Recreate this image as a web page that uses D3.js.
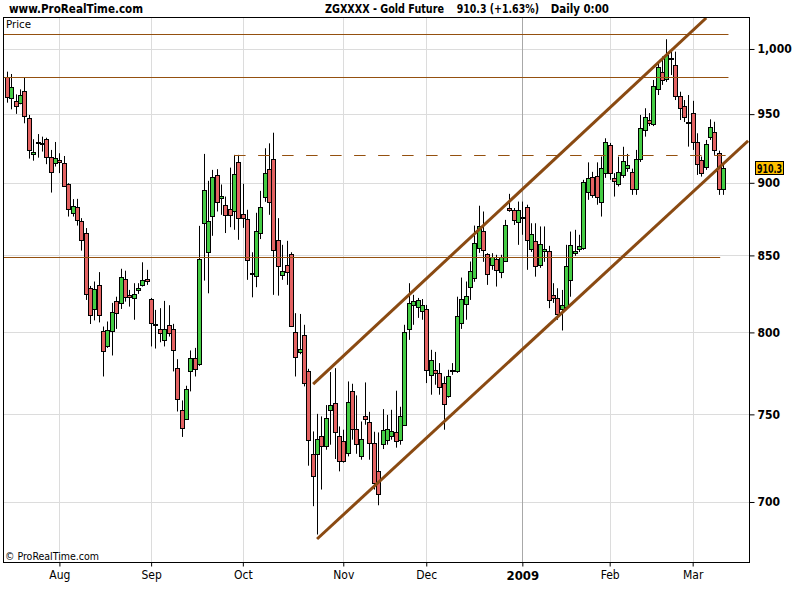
<!DOCTYPE html>
<html>
<head>
<meta charset="utf-8">
<script src="https://cdn.jsdelivr.net/npm/d3@7/dist/d3.min.js"></script>
<style>
  html, body { margin: 0; padding: 0; background: #ffffff; }
  svg { display: block; }
  text { font-family: 'Liberation Sans Narrow', 'Arial Narrow', 'DejaVu Sans Condensed', sans-serif; }
</style>
</head>
<body>
<svg id="chart" width="800" height="600"></svg>
<script>
// ---- Data (Gold Future, daily candles, 16 Jul 2008 .. 11 Mar 2009) ----
const opens = [978.4,961.9,959.6,958.1,967.2,946.9,920.5,929.2,928.9,931.6,
918.3,914.0,916.3,914.0,899.0,878.8,883.2,873.2,865.1,828.3,
814.7,830.5,800.8,791.6,800.8,819.9,818.6,834.3,823.7,821.8,
827.0,830.3,834.3,821.2,805.0,802.0,795.1,804.6,802.2,778.0,
752.5,747.2,776.0,784.0,780.3,871.8,852.1,876.7,905.4,889.2,
884.3,881.8,880.2,914.7,878.5,874.6,838.2,836.2,865.1,889.9,
909.7,916.8,860.3,837.1,843.4,850.8,800.2,787.6,798.2,776.0,
726.9,726.9,737.1,731.3,752.5,756.7,737.1,734.2,727.8,764.1,
741.4,726.1,749.0,745.8,733.3,717.4,732.7,735.2,737.1,739.4,
735.2,743.5,802.0,817.5,816.4,813.9,814.7,773.5,776.8,774.8,
768.7,761.1,776.4,776.2,805.9,818.0,829.4,835.3,854.9,866.6,
850.8,843.9,847.5,838.9,846.1,882.3,880.6,872.8,875.9,883.0,
854.2,860.0,843.7,853.0,853.0,823.7,821.8,814.7,816.4,833.8,
851.5,854.2,855.2,893.4,904.2,905.0,886.4,906.9,927.2,903.3,
899.3,905.6,910.4,907.6,895.5,916.8,938.2,945.6,942.4,968.7,
981.8,976.4,993.2,987.5,963.6,956.1,944.3,950.6,929.2,916.3,
911.6,932.9,936.5,921.2,895.5];

const highs = [982.3,980.5,964.9,968.7,977.4,949.4,931.4,935.2,933.3,932.5,
923.6,929.4,921.2,919.2,899.7,888.5,888.7,875.3,868.5,829.8,
832.7,838.9,803.7,806.9,818.8,822.8,841.1,839.8,827.2,831.6,
831.6,845.4,840.4,822.0,814.3,815.4,820.1,817.3,805.4,783.3,
758.3,767.1,788.7,790.3,870.0,920.7,901.4,909.2,909.7,898.8,
890.3,910.8,920.0,920.0,899.3,881.1,852.1,879.0,894.3,924.8,
928.4,936.2,875.3,857.1,859.8,852.1,812.2,811.7,804.8,777.4,
740.0,750.3,748.8,755.5,775.4,777.8,742.9,741.0,769.7,768.3,
761.3,745.8,769.1,751.5,739.8,739.4,753.1,749.7,752.7,764.1,
754.5,804.8,831.6,824.0,822.0,821.3,817.5,789.1,787.8,780.9,
772.7,776.8,780.9,822.8,835.3,832.7,845.9,870.2,883.9,879.9,
851.5,851.5,850.4,850.4,874.1,892.2,882.3,886.8,886.8,884.6,
871.8,871.8,869.6,869.6,856.4,831.6,828.3,827.2,857.1,866.1,
867.3,863.9,902.1,914.6,907.8,914.6,918.8,932.1,928.7,906.9,
918.8,925.9,920.7,910.1,923.6,949.4,954.4,950.8,975.9,990.1,
994.1,1007.7,997.9,997.9,966.9,960.6,964.4,960.0,935.8,918.8,
930.9,946.1,944.3,923.1,912.8];

const lows = [958.6,953.6,950.2,957.4,943.2,917.3,915.8,918.0,922.4,913.3,
893.1,911.6,906.9,897.4,876.4,876.4,870.2,853.2,820.7,805.3,
807.6,806.3,772.7,790.3,785.6,802.2,814.9,819.6,816.4,808.0,
824.6,829.4,830.5,791.2,789.9,793.8,791.2,797.4,775.8,751.7,
736.8,746.8,763.7,772.7,779.2,833.3,825.0,863.2,879.9,877.6,
865.1,869.1,867.3,860.5,868.6,833.8,822.4,829.0,861.0,886.6,
877.6,824.0,823.5,833.8,830.5,803.9,772.7,786.4,766.7,720.3,
697.7,682.3,706.9,729.4,732.3,724.1,717.1,722.0,725.6,735.2,
727.1,723.7,743.9,723.7,706.9,698.2,729.8,732.3,735.2,730.6,
732.3,743.3,795.3,804.8,809.2,808.0,768.7,761.7,767.7,761.7,
741.0,759.9,773.7,774.9,802.2,808.0,820.7,832.5,851.7,845.7,
830.5,840.4,829.4,834.9,845.7,879.7,870.6,857.1,863.9,840.4,
852.3,835.9,841.7,845.7,815.4,818.8,808.0,801.2,815.6,822.8,
849.7,852.3,853.7,888.0,889.4,884.6,876.4,903.5,902.1,890.3,
897.4,903.5,907.8,891.5,891.5,914.9,933.3,941.1,941.1,964.4,
972.1,974.4,979.7,960.6,945.6,944.1,926.0,923.6,905.6,904.4,
909.2,930.9,920.0,891.5,891.5];

const closes = [962.7,970.3,955.9,964.1,948.4,923.4,922.0,928.7,927.7,918.3,
907.6,917.5,914.9,898.0,881.6,883.9,873.9,860.3,824.6,810.9,
827.7,810.9,788.3,801.6,813.0,812.2,835.6,822.8,822.4,824.4,
828.5,833.6,833.0,805.9,804.8,799.5,802.0,799.7,788.7,759.1,
742.0,765.3,784.0,777.2,847.5,894.8,873.4,904.0,886.4,890.6,
877.4,877.8,906.1,875.3,875.3,846.8,837.8,866.4,883.0,906.9,
886.4,853.7,843.0,839.9,838.9,804.3,784.6,789.5,768.7,735.0,
714.3,735.6,731.3,747.8,755.7,739.4,723.1,722.7,757.5,741.4,
732.7,735.8,747.2,733.3,710.5,704.5,740.8,741.4,740.0,734.2,
749.1,800.2,818.6,820.1,820.7,817.3,776.4,782.9,774.8,766.3,
756.1,772.7,776.7,810.5,821.2,823.3,839.5,858.3,869.6,853.7,
837.5,848.8,840.4,848.8,870.4,880.6,874.1,880.6,875.5,860.5,
864.4,843.0,857.7,854.0,820.7,821.8,811.5,817.3,843.0,857.1,
853.0,856.4,900.5,903.3,891.5,890.3,910.4,929.2,906.9,901.4,
907.6,915.4,912.8,895.5,916.8,939.4,947.6,943.2,971.3,985.7,
975.9,994.9,993.0,963.6,954.3,948.1,944.5,929.2,913.3,906.9,
927.7,940.1,923.6,895.5,910.3];

// month tick positions (candle index of first trading day) and labels
const monthIndex  = [12, 33, 54, 77, 96, 118, 138, 157];
const monthLabels = ["Aug", "Sep", "Oct", "Nov", "Dec", "2009", "Feb", "Mar"];
const priceTicks  = [700, 750, 800, 850, 900, 950, 1000];

// drawn horizontal levels: [price, startIndex, endIndex, dashed]
const levelPrices = [1011.5, 978, 920, 849];
const levelStart  = [-0.92, -0.92, 52, -0.92];
const levelEnd    = [165.2, 165.2, 165.2, 163.3];
const levelDashed = [false, false, true, false];

// trend channel: [startIndex, startPrice, endIndex, endPrice]
const channelLower = [71.0, 679.9, 169.7, 930.2];
const channelUpper = [70.1, 768.1, 160.1, 1024.7];

const lastPrice = 910.3;

// ---- Layout ----
const L = 3, R = 749, T = 17, B = 562;
const svg = d3.select("#chart");
const x = d3.scaleLinear().domain([-0.916, 169.9]).range([L, R]);
const y = d3.scaleLog().domain([667.7, 1025.5]).range([B, T]);

const brown = "#94500f";
const axisFont = "'Liberation Sans', Arial, sans-serif";

// background
svg.append("rect").attr("x", 0).attr("y", 0).attr("width", 800).attr("height", 600).attr("fill", "#fff");

const clipId = "plotclip";
svg.append("clipPath").attr("id", clipId).append("rect")
  .attr("x", L).attr("y", T).attr("width", R - L).attr("height", B - T);

// grid
const grid = svg.append("g");
grid.selectAll("line.h").data(priceTicks).join("line")
  .attr("x1", L).attr("x2", R)
  .attr("y1", d => Math.round(y(d)) + 0.5).attr("y2", d => Math.round(y(d)) + 0.5)
  .attr("stroke", "#dcdcdc").attr("stroke-width", 1);
grid.selectAll("line.v").data(monthIndex).join("line")
  .attr("x1", d => Math.round(x(d)) + 0.5).attr("x2", d => Math.round(x(d)) + 0.5)
  .attr("y1", T).attr("y2", B)
  .attr("stroke", (d, i) => monthLabels[i] === "2009" ? "#a8a8a8" : "#dcdcdc")
  .attr("stroke-width", 1);

// candles
const candles = d3.range(opens.length).map(i => ({
  i, o: opens[i], h: highs[i], l: lows[i], c: closes[i]
}));
const cg = svg.append("g").attr("clip-path", `url(#${clipId})`);
const cx = d => Math.round(x(d.i));
cg.selectAll("line.wick").data(candles).join("line")
  .attr("x1", d => cx(d) + 0.5).attr("x2", d => cx(d) + 0.5)
  .attr("y1", d => y(d.h)).attr("y2", d => y(d.l))
  .attr("stroke", "#000").attr("stroke-width", 1);
cg.selectAll("rect.body").data(candles).join("rect")
  .attr("x", d => cx(d) - 1.5)
  .attr("width", 4)
  .attr("y", d => Math.round(y(Math.max(d.o, d.c))) + 0.5)
  .attr("height", d => Math.max(1, Math.round(y(Math.min(d.o, d.c))) - Math.round(y(Math.max(d.o, d.c)))))
  .attr("fill", d => d.c >= d.o ? "#44cc44" : "#e36262")
  .attr("stroke", "#000").attr("stroke-width", 1);

// horizontal levels
const lg = svg.append("g").attr("clip-path", `url(#${clipId})`);
levelPrices.forEach((p, k) => {
  lg.append("line")
    .attr("x1", x(levelStart[k])).attr("x2", x(levelEnd[k]))
    .attr("y1", Math.round(y(p)) + 0.5).attr("y2", Math.round(y(p)) + 0.5)
    .attr("stroke", brown).attr("stroke-width", 1)
    .attr("stroke-dasharray", levelDashed[k] ? "11.5,12.5" : null);
});

// channel lines
[channelLower, channelUpper].forEach(cl => {
  lg.append("line")
    .attr("x1", x(cl[0])).attr("y1", y(cl[1]))
    .attr("x2", x(cl[2])).attr("y2", y(cl[3]))
    .attr("stroke", "#8a4a12").attr("stroke-width", 3);
});

// frame
svg.append("rect").attr("x", L + 0.5).attr("y", T + 0.5)
  .attr("width", R - L).attr("height", B - T)
  .attr("fill", "none").attr("stroke", "#000").attr("stroke-width", 1);

// right axis
const yAxis = d3.axisRight(y).tickValues(priceTicks).tickSize(5).tickPadding(3)
  .tickFormat(d3.format(","));
const ya = svg.append("g").attr("transform", `translate(${R + 0.5},0)`).call(yAxis);
ya.select(".domain").remove();
ya.selectAll(".tick line").attr("stroke", "#000");
ya.selectAll(".tick text").attr("font-size", 12).attr("font-weight", "bold").attr("fill", "#000")
  .attr("font-family", axisFont);

// bottom axis
const xAxis = d3.axisBottom(x).tickValues(monthIndex).tickSize(4).tickPadding(4)
  .tickFormat((d, i) => monthLabels[i]);
const xa = svg.append("g").attr("transform", `translate(0,${B + 0.5})`).call(xAxis);
xa.select(".domain").remove();
xa.selectAll(".tick line").attr("stroke", "#000");
xa.selectAll(".tick text")
  .attr("font-size", (d, i) => monthLabels[i] === "2009" ? 13 : 12)
  .attr("font-weight", (d, i) => monthLabels[i] === "2009" ? "bold" : "normal")
  .attr("fill", "#000")
  .attr("font-family", "'Liberation Sans Narrow','Arial Narrow','DejaVu Sans Condensed',sans-serif");

// last price badge
const lpY = y(lastPrice);
svg.append("rect").attr("x", 755.5).attr("y", Math.round(lpY) - 6.5)
  .attr("width", 28).attr("height", 13)
  .attr("fill", "#ffc000").attr("stroke", "#000").attr("stroke-width", 1);
svg.append("text").attr("x", 757).attr("y", Math.round(lpY) + 4.5)
  .attr("font-size", 12).attr("font-weight", "bold").attr("font-family", axisFont)
  .attr("textLength", 25).attr("lengthAdjust", "spacingAndGlyphs")
  .text(d3.format(".1f")(lastPrice));

// header texts
svg.append("text").attr("x", 9).attr("y", 13).attr("font-size", 13).attr("font-weight", "bold")
  .attr("textLength", 134).attr("lengthAdjust", "spacingAndGlyphs").text("www.ProRealTime.com");
svg.append("text").attr("x", 325).attr("y", 13).attr("font-size", 12.5).attr("font-weight", "bold")
  .attr("textLength", 119).attr("lengthAdjust", "spacingAndGlyphs").text("ZGXXXX - Gold Future");
svg.append("text").attr("x", 456.7).attr("y", 13).attr("font-size", 12.5).attr("font-weight", "bold")
  .attr("textLength", 82.3).attr("lengthAdjust", "spacingAndGlyphs").text("910.3 (+1.63%)");
svg.append("text").attr("x", 550.7).attr("y", 13).attr("font-size", 12.5).attr("font-weight", "bold")
  .attr("textLength", 58.3).attr("lengthAdjust", "spacingAndGlyphs").text("Daily  0:00");

// inner labels
svg.append("text").attr("x", 6).attr("y", 28).attr("font-size", 10)
  .attr("font-family", "'DejaVu Sans Condensed','Liberation Sans Narrow',sans-serif")
  .attr("textLength", 25).attr("lengthAdjust", "spacingAndGlyphs").text("Price");
svg.append("text").attr("x", 5).attr("y", 560).attr("font-size", 11)
  .attr("textLength", 94).attr("lengthAdjust", "spacingAndGlyphs").text("© ProRealTime.com");
</script>
</body>
</html>
